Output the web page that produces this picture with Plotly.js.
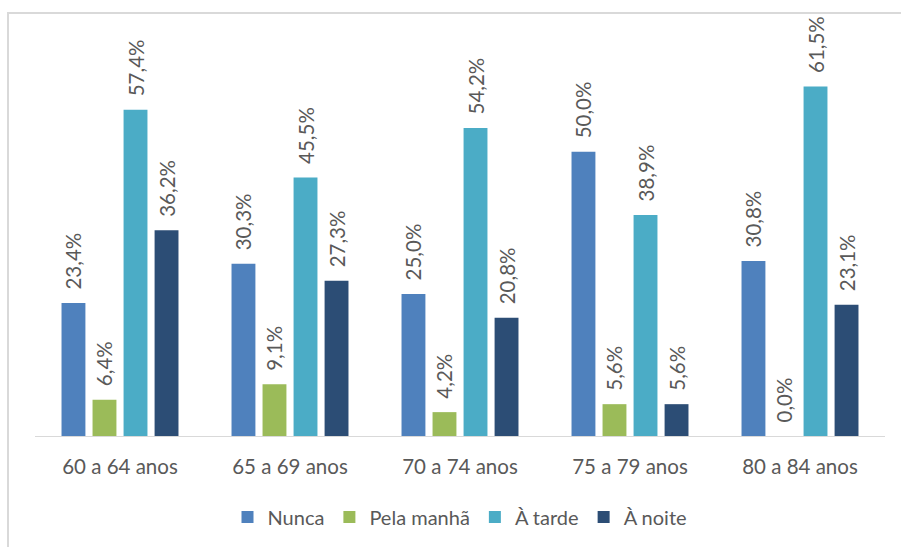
<!DOCTYPE html>
<html>
<head>
<meta charset="utf-8">
<script src="https://cdn.plot.ly/plotly-3.0.1.min.js"></script>
<style>
html,body{margin:0;padding:0;overflow:hidden;background:#fff;}
#chart{width:901px;height:547px;}
#frame{position:absolute;left:7px;top:12px;width:1000px;height:1000px;border:2px solid #d9d9d9;pointer-events:none;box-sizing:border-box;}
</style>
</head>
<body>
<div id="chart"></div>
<div id="frame"></div>
<script>
const categories = ["60 a 64 anos", "65 a 69 anos", "70 a 74 anos", "75 a 79 anos", "80 a 84 anos"];
const seriesNames = ["Nunca", "Pela manhã", "À tarde", "À noite"];
const nunca = [23.4, 30.3, 25.0, 50.0, 30.8];
const pelaManha = [6.4, 9.1, 4.2, 5.6, 0.0];
const aTarde = [57.4, 45.5, 54.2, 38.9, 61.5];
const aNoite = [36.2, 27.3, 20.8, 5.6, 23.1];
const colors = ["#4F81BD", "#9BBB59", "#4BACC6", "#2C4D75"];

const values = [nunca, pelaManha, aTarde, aNoite];
const font = "Lato, 'Open Sans', sans-serif";
const pad = "\u00a0\u00a0";
const traces = values.map((v, i) => ({
  type: "bar",
  name: seriesNames[i],
  x: categories,
  y: v,
  marker: {color: colors[i]},
  texttemplate: pad + "%{y:.1f}%",
  textposition: "outside",
  textangle: -90,
  constraintext: "none",
  cliponaxis: false,
  textfont: {family: font, size: 20.5, color: "#595959"},
  hoverinfo: "x+y+name"
}));

const layout = {
  width: 901, height: 547,
  margin: {l: 35, r: 16, t: 20, b: 110},
  separators: ",.",
  barmode: "group",
  bargap: 0.27,
  bargroupgap: 0.23,
  paper_bgcolor: "#fff",
  plot_bgcolor: "#fff",
  font: {family: font, color: "#595959", size: 20},
  xaxis: {
    showline: true, linecolor: "#d9d9d9", linewidth: 1,
    ticks: "", showgrid: false,
    ticklabelstandoff: 12,
    tickfont: {family: font, size: 20.5, color: "#595959"}
  },
  yaxis: {
    range: [0, 73.2], visible: false, showgrid: false, zeroline: false
  },
  legend: {
    orientation: "h", x: 0.5, xanchor: "center", y: -0.192, yanchor: "middle",
    font: {family: font, size: 20, color: "#595959"},
    itemwidth: 30
  },
  showlegend: true
};

Plotly.newPlot("chart", traces, layout, {displayModeBar: false, staticPlot: true});
</script>
</body>
</html>
